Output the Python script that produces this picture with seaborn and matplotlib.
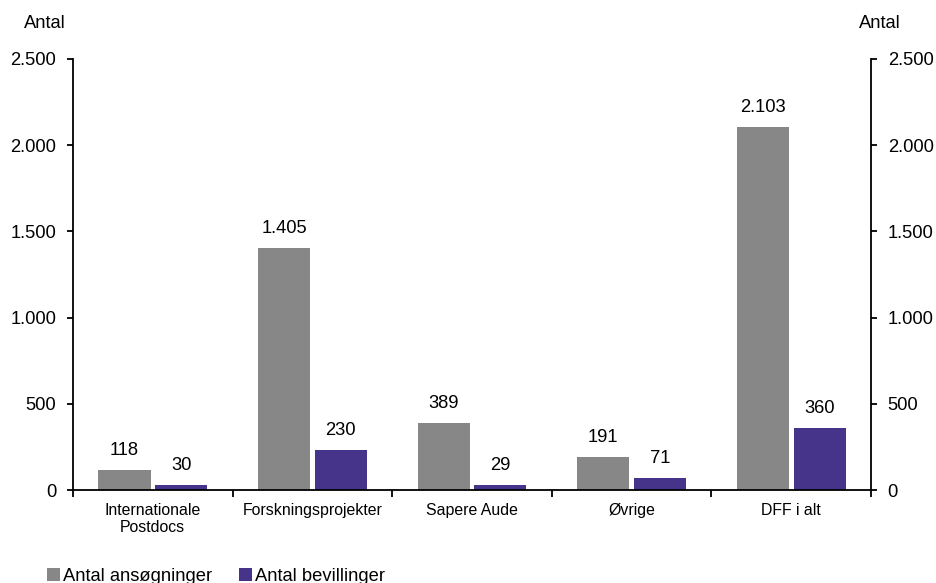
import matplotlib
matplotlib.use("Agg")
import matplotlib.pyplot as plt
from matplotlib.patches import Patch
from matplotlib.ticker import FuncFormatter, FixedLocator
import seaborn as sns
import pandas as pd

categories = ["Internationale\nPostdocs", "Forskningsprojekter", "Sapere Aude", "Øvrige", "DFF i alt"]
ansoegninger = [118, 1405, 389, 191, 2103]
bevillinger = [30, 230, 29, 71, 360]
series_names = ["Antal ansøgninger", "Antal bevillinger"]
colors = ["#878787", "#46338A"]
y_ticks = [0, 500, 1000, 1500, 2000, 2500]

df = pd.DataFrame({
    "kategori": categories * 2,
    "serie": [series_names[0]] * len(categories) + [series_names[1]] * len(categories),
    "antal": ansoegninger + bevillinger,
})

sns.set_theme(style="white")
plt.rcParams["font.family"] = ["Liberation Sans", "DejaVu Sans"]
plt.rcParams["text.color"] = "black"
plt.rcParams["xtick.color"] = "black"
plt.rcParams["ytick.color"] = "black"

fig = plt.figure(figsize=(9.36, 5.83), dpi=100)
ax = fig.add_axes([0.0780, 0.1595, 0.8526, 0.7393])

sns.barplot(data=df, x="kategori", y="antal", hue="serie", hue_order=series_names,
            palette=colors, width=0.71, gap=0.08, legend=False, ax=ax,
            linewidth=0, saturation=1)

fmt = lambda v: f"{int(round(v)):,}".replace(",", ".")
for cont, vals in zip(ax.containers, [ansoegninger, bevillinger]):
    ax.bar_label(cont, labels=[fmt(v) for v in vals], padding=8, fontsize=13.2, color="black")

ax.set_ylim(0, 2500)
ax.set_xlim(-0.5, len(categories) - 0.5)
ax.yaxis.set_major_locator(FixedLocator(y_ticks))
ax.yaxis.set_major_formatter(FuncFormatter(lambda v, p: fmt(v)))
ax.tick_params(axis="y", which="major", direction="out", length=4, width=1.3,
               left=True, right=True, labelleft=True, labelright=True,
               labelsize=13.2, pad=8, colors="black")
ax.tick_params(axis="x", which="major", bottom=True, length=0, labelsize=11.4, pad=9,
               labelcolor="black")
ax.set_xticks([i + 0.5 for i in range(-1, len(categories))], minor=True)
ax.tick_params(axis="x", which="minor", bottom=True, direction="out", length=5,
               width=1.3, color="black")
ax.set_xlabel("")
ax.set_ylabel("")

for side in ["left", "right", "bottom"]:
    ax.spines[side].set_visible(True)
    ax.spines[side].set_color("black")
    ax.spines[side].set_linewidth(1.3)
ax.spines["top"].set_visible(False)

fig.text(0.048, 0.9605, "Antal", ha="center", va="center", fontsize=13.2, color="black")
fig.text(0.940, 0.9605, "Antal", ha="center", va="center", fontsize=13.2, color="black")

handles = [Patch(facecolor=c, edgecolor="none", label=n) for c, n in zip(colors, series_names)]
fig.legend(handles=handles, loc="center left", bbox_to_anchor=(0.0502, 0.0120), ncol=2,
           frameon=False, fontsize=13.2, handlelength=0.7, handleheight=0.7,
           handletextpad=0.16, columnspacing=1.5, borderpad=0, borderaxespad=0)

fig.savefig("out.png", dpi=100)
